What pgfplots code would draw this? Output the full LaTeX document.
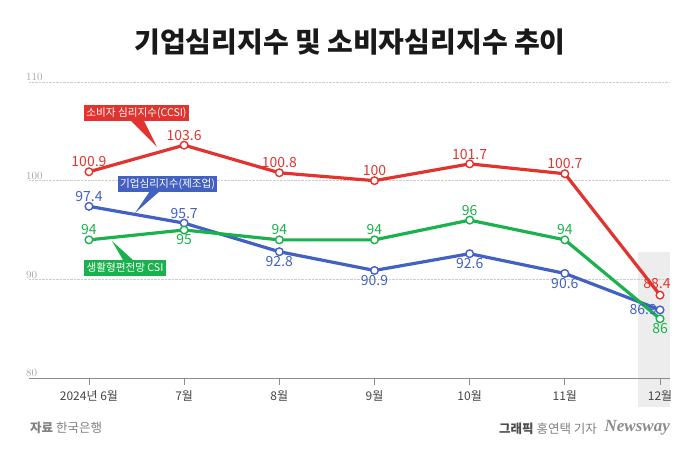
\documentclass[border=0pt]{standalone}
\usepackage{fontspec}
\setmainfont{Noto Sans CJK KR}
\newfontfamily\newsfont{Liberation Serif}
\usepackage{pgfplots}
\pgfplotsset{compat=1.18}

\definecolor{cred}{HTML}{E2342F}
\definecolor{cblue}{HTML}{4261C2}
\definecolor{cgreen}{HTML}{1AB24C}
\definecolor{txtgray}{HTML}{444444}
\newcommand\fs[1]{\fontsize{#1}{#1}\selectfont}

\pgfplotsset{
  ser/.style={#1, line width=3.2pt, mark=*, mark size=3.8pt,
    mark options={fill=white, draw=#1, line width=1.4pt}},
  lbl/.style 2 args={draw=none, mark=none, forget plot,
    nodes near coords, point meta=explicit symbolic,
    nodes near coords style={anchor=#1, inner sep=4.5pt, font=\fs{14}, text=#2}},
}
\tikzset{callout/.style={fill=#1, text=white, font=\fs{10.6}, minimum height=16pt,
  inner xsep=2.5pt, inner ysep=0pt}}

\begin{document}
\begin{tikzpicture}
\path[use as bounding box] (0,0) rectangle (700pt,450pt);
% pixel-like coordinates: origin top left
\begin{scope}[x=1pt,y=-1pt,yshift=450pt]
  \fill[black!7] (638,252) rectangle (670,407);
\end{scope}

\begin{axis}[
  at={(29pt,72pt)}, anchor=south west,
  scale only axis, width=641pt, height=296pt,
  xmin=-0.63, xmax=6.105, ymin=80, ymax=110,
  clip=false,
  axis x line*=bottom, axis y line*=left,
  x axis line style={-, black!45, line width=0.8pt},
  y axis line style={draw=none},
  ytick={80,90,100,110},
  ytick style={draw=none},
  yticklabel style={anchor=south west, inner sep=1pt, xshift=3pt, text=black!35, font=\fs{11}},
  ymajorgrids, grid style={densely dotted, black!20},
  xtick={0,...,6},
  xticklabels={2024년 6월,7월,8월,9월,10월,11월,12월},
  tick align=outside, major tick length=7pt,
  xtick style={black!45, line width=0.8pt},
  xticklabel style={text=txtgray, font=\fs{12}, yshift=-2pt},
]
% 소비자 심리지수(CCSI)
\addplot[ser=cred] coordinates {(0,100.9) (1,103.6) (2,100.8) (3,100) (4,101.7) (5,100.7) (6,88.4)};
% 기업심리지수(제조업)
\addplot[ser=cblue] coordinates {(0,97.4) (1,95.7) (2,92.8) (3,90.9) (4,92.6) (5,90.6) (6,86.9)};
% 생활형편전망 CSI
\addplot[ser=cgreen] coordinates {(0,94) (1,95) (2,94) (3,94) (4,96) (5,94) (6,86)};

% value labels
\addplot[lbl={south}{cred}] coordinates {(0,100.9)[100.9] (1,103.6)[103.6] (2,100.8)[100.8]
  (3,100)[100] (4,101.7)[101.7] (5,100.7)[100.7]};
\addplot[lbl={south}{cred}, nodes near coords style={xshift=-3pt, yshift=2pt}] coordinates {(6,88.4)[88.4]};
\addplot[lbl={south}{cblue}] coordinates {(0,97.4)[97.4] (1,95.7)[95.7]};
\addplot[lbl={north}{cblue}] coordinates {(2,92.8)[92.8] (3,90.9)[90.9] (4,92.6)[92.6] (5,90.6)[90.6]};
\addplot[lbl={east}{cblue}, nodes near coords style={inner sep=3pt}] coordinates {(6,86.9)[86.9]};
\addplot[lbl={south}{cgreen}] coordinates {(0,94)[94] (2,94)[94] (3,94)[94] (4,96)[96] (5,94)[94]};
\addplot[lbl={north}{cgreen}] coordinates {(1,95)[95] (6,86)[86]};
\end{axis}

\begin{scope}[x=1pt,y=-1pt,yshift=450pt]
  % title
  \node[font=\fs{28}\bfseries, text=black!90] at (350,42) {기업심리지수 및 소비자심리지수 추이};
  % callouts
  \fill[cred] (131,121) -- (144,121) -- (157,147) -- cycle;
  \node[callout=cred] at (136.5,113.5) {소비자 심리지수(CCSI)};
  \fill[cblue] (150,191) -- (160,191) -- (135,213) -- cycle;
  \node[callout=cblue] at (167.5,184) {기업심리지수(제조업)};
  \fill[cgreen] (123,260) -- (133,260) -- (112,241) -- cycle;
  \node[callout=cgreen] at (125,267.5) {생활형편전망 CSI};
  % footer
  \node[anchor=west, font=\fs{12.5}, text=black!50, inner sep=0pt] at (30,428)
    {\textbf{자료} 한국은행};
  \node[anchor=east, font=\fs{12.5}, text=black!50, inner sep=0pt] at (597,429)
    {\textbf{\textcolor{black!70}{그래픽}} 홍연택 기자};
  \node[anchor=east, font=\fs{17}\newsfont\bfseries\itshape, text=black!45, inner sep=0pt] at (670,428)
    {Newsway};
\end{scope}
\end{tikzpicture}
\end{document}
